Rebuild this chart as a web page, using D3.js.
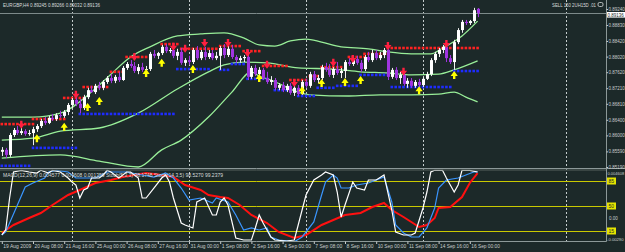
<!DOCTYPE html>
<html><head><meta charset="utf-8">
<script src="https://cdn.jsdelivr.net/npm/d3@7/dist/d3.min.js"></script>
<style>
html,body{margin:0;padding:0;background:#1c2929;}
svg{display:block;}
text{font-family:"Liberation Sans",Arial,sans-serif;}
</style></head><body>
<svg id="c" width="625" height="252"></svg>
<script>
// ---------- DATA ----------
const symbolTitle = "EURGBP,H4  0.89245 0.89266 0.89032 0.89136";
const tradeText = "SELL 150 2UH15D .01";
const indicatorTitle = "MACD(12,26,9) 0.004577 0.004608 0.001359  Stoch(5,3,3) 98.1748  Stoch(14,3,5) 98.5270 99.2379";

const opens = [0.8558,0.8563,0.8550,0.8601,0.8614,0.8606,0.8611,0.8604,0.8606,0.8616,
0.8624,0.8637,0.8632,0.8645,0.8642,0.8652,0.8650,0.8660,0.8678,0.8691,
0.8681,0.8670,0.8698,0.8716,0.8711,0.8727,0.8722,0.8737,0.8747,0.8740,
0.8750,0.8742,0.8773,0.8783,0.8778,0.8765,0.8775,0.8768,0.8770,0.8809,
0.8804,0.8811,0.8827,0.8816,0.8819,0.8804,0.8814,0.8786,0.8793,0.8788,
0.8819,0.8798,0.8814,0.8801,0.8811,0.8798,0.8804,0.8824,0.8806,0.8822,
0.8801,0.8793,0.8798,0.8801,0.8750,0.8773,0.8757,0.8768,0.8747,0.8737,
0.8742,0.8722,0.8729,0.8716,0.8727,0.8709,0.8722,0.8706,0.8737,0.8727,
0.8757,0.8742,0.8747,0.8775,0.8768,0.8755,0.8770,0.8760,0.8765,0.8788,
0.8783,0.8796,0.8786,0.8770,0.8801,0.8793,0.8811,0.8798,0.8806,0.8819,
0.8750,0.8768,0.8747,0.8755,0.8732,0.8740,0.8727,0.8737,0.8729,0.8745,
0.8757,0.8793,0.8809,0.8819,0.8827,0.8798,0.8788,0.8839,0.8870,0.8891,
0.8888,0.8893,0.89245];
const highs = [0.8570,0.8568,0.8606,0.8619,0.8624,0.8622,0.8616,0.8614,0.8622,0.8629,
0.8642,0.8647,0.8650,0.8655,0.8657,0.8663,0.8665,0.8683,0.8696,0.8698,
0.8693,0.8704,0.8722,0.8727,0.8732,0.8737,0.8742,0.8752,0.8757,0.8755,
0.8763,0.8778,0.8788,0.8793,0.8788,0.8783,0.8786,0.8778,0.8814,0.8819,
0.8814,0.8832,0.8834,0.8824,0.8829,0.8822,0.8824,0.8798,0.8804,0.8824,
0.8829,0.8819,0.8827,0.8819,0.8819,0.8814,0.8829,0.8834,0.8829,0.8832,
0.8806,0.8804,0.8806,0.8819,0.8778,0.8781,0.8775,0.8773,0.8763,0.8752,
0.8747,0.8734,0.8737,0.8732,0.8734,0.8727,0.8729,0.8742,0.8745,0.8763,
0.8765,0.8755,0.8781,0.8786,0.8783,0.8775,0.8788,0.8773,0.8793,0.8798,
0.8801,0.8804,0.8793,0.8806,0.8814,0.8819,0.8819,0.8814,0.8824,0.8829,
0.8773,0.8775,0.8763,0.8760,0.8747,0.8747,0.8742,0.8745,0.8750,0.8763,
0.8798,0.8814,0.8824,0.8832,0.8839,0.8806,0.8845,0.8875,0.8896,0.8896,
0.8896,0.8927,0.89266];
const lows = [0.8547,0.8542,0.8545,0.8596,0.8601,0.8601,0.8599,0.8599,0.8575,0.8609,
0.8619,0.8627,0.8629,0.8637,0.8637,0.8645,0.8645,0.8652,0.8670,0.8675,
0.8657,0.8665,0.8693,0.8709,0.8706,0.8716,0.8716,0.8732,0.8734,0.8734,
0.8737,0.8740,0.8768,0.8773,0.8760,0.8757,0.8763,0.8763,0.8765,0.8798,
0.8796,0.8806,0.8811,0.8811,0.8798,0.8793,0.8781,0.8778,0.8781,0.8783,
0.8793,0.8793,0.8793,0.8796,0.8793,0.8793,0.8768,0.8798,0.8801,0.8796,
0.8786,0.8786,0.8788,0.8742,0.8745,0.8752,0.8752,0.8742,0.8732,0.8729,
0.8716,0.8716,0.8711,0.8711,0.8704,0.8701,0.8701,0.8704,0.8722,0.8722,
0.8737,0.8734,0.8742,0.8763,0.8750,0.8747,0.8755,0.8747,0.8747,0.8778,
0.8778,0.8781,0.8763,0.8765,0.8788,0.8788,0.8793,0.8793,0.8798,0.8742,
0.8745,0.8742,0.8732,0.8727,0.8722,0.8722,0.8722,0.8724,0.8724,0.8742,
0.8752,0.8786,0.8801,0.8811,0.8788,0.8783,0.8768,0.8834,0.8863,0.8883,
0.8883,0.8888,0.89032];
const closes = [0.8563,0.8550,0.8601,0.8614,0.8606,0.8611,0.8604,0.8606,0.8616,0.8624,
0.8637,0.8632,0.8645,0.8642,0.8652,0.8650,0.8660,0.8678,0.8691,0.8681,
0.8670,0.8698,0.8716,0.8711,0.8727,0.8722,0.8737,0.8747,0.8740,0.8750,
0.8742,0.8773,0.8783,0.8778,0.8765,0.8775,0.8768,0.8770,0.8809,0.8804,
0.8811,0.8827,0.8816,0.8819,0.8804,0.8814,0.8786,0.8793,0.8788,0.8819,
0.8798,0.8814,0.8801,0.8811,0.8798,0.8804,0.8824,0.8806,0.8822,0.8801,
0.8793,0.8798,0.8801,0.8750,0.8773,0.8757,0.8768,0.8747,0.8737,0.8742,
0.8722,0.8729,0.8716,0.8727,0.8709,0.8722,0.8706,0.8737,0.8727,0.8757,
0.8742,0.8747,0.8775,0.8768,0.8755,0.8770,0.8760,0.8765,0.8788,0.8783,
0.8796,0.8786,0.8770,0.8801,0.8793,0.8811,0.8798,0.8806,0.8819,0.8750,
0.8768,0.8747,0.8755,0.8732,0.8740,0.8727,0.8737,0.8729,0.8745,0.8757,
0.8793,0.8809,0.8819,0.8827,0.8798,0.8788,0.8839,0.8870,0.8891,0.8888,
0.8893,0.8921,0.89136];
const currentPrice = 0.89136;

// bands: [bar, price]
const upperBand = [[0,0.8647],[8,0.8647],[15,0.8657],[23,0.8711],[28,0.8757],[33,0.8801],[38,0.8827],[45,0.8855],[51,0.8860],[57,0.8863],[62,0.8850],[66,0.8832],[70,0.8829],[74,0.8842],[78,0.8847],[82,0.8839],[87,0.8827],[94,0.8822],[99,0.8814],[105,0.8809],[110,0.8809],[113,0.8824],[118,0.8855],[122,0.8893]];
const middleBand = [[0,0.8588],[8,0.8593],[15,0.8611],[25,0.8619],[35,0.8657],[45,0.8719],[53,0.8763],[57,0.8781],[62,0.8788],[68,0.8786],[76,0.8773],[85,0.8770],[92,0.8763],[99,0.8760],[105,0.8755],[112,0.8757],[116,0.8768],[122,0.8791]];
const lowerBand = [[0,0.8542],[15,0.8550],[25,0.8534],[35,0.8519],[41,0.8563],[46,0.8588],[53,0.8647],[59,0.8711],[64,0.8763],[66,0.8752],[69,0.8742],[76,0.8711],[79,0.8704],[89,0.8701],[97,0.8704],[105,0.8704],[112,0.8706],[116,0.8711],[119,0.8698],[122,0.8686]];

// resistance / support dotted levels: [fromBar, toBar, price]
const resistance = [[0,8,0.8629],[8,16,0.8642],[16,21,0.8696],[21,27,0.8724],[28,31,0.8763],[32,37,0.8801],[41,45,0.8834],[46,55,0.8822],[56,61,0.8829],[62,66,0.8816],[67,73,0.8778],[74,78,0.8742],[79,81,0.8752],[82,87,0.8775],[89,93,0.8801],[93,99,0.8809],[99,122,0.8824]];
const support = [[0,7,0.8522],[8,19,0.8568],[20,44,0.8655],[45,53,0.8770],[56,58,0.8768],[59,62,0.8783],[63,68,0.8745],[70,76,0.8716],[76,80,0.8701],[81,85,0.8722],[86,91,0.8727],[92,99,0.8755],[100,115,0.8724],[116,122,0.8765]];

// signal arrows: [bar, price]
const sellArrows = [[5,0.8627],[19,0.8704],[34,0.8801],[44,0.8827],[47,0.8822],[52,0.8837],[58,0.8837],[63,0.8811],[68,0.8781],[75,0.8734],[85,0.8786],[90,0.8796],[99,0.8829],[103,0.8763],[114,0.8834]];
const buyArrows = [[9,0.8593],[16,0.8622],[22,0.8673],[25,0.8688],[37,0.8760],[41,0.8786],[49,0.8770],[66,0.8747],[77,0.8716],[82,0.8734],[88,0.8737],[92,0.8742],[107,0.8716],[116,0.8755]];

// oscillator lines: [bar, value 0-100]
const whiteLine = [[0,9.4],[1,16.4],[2,61.2],[3,97.6],[5,100],[7,97.6],[9,96.2],[10,100],[12,96.2],[13,100],[15,97.6],[17,89.2],[18,83.6],[19,79.4],[20,61.2],[21,72.4],[22,75.2],[23,89.2],[25,89.2],[26,93.4],[27,100],[28,97.6],[30,89.2],[32,97.6],[33,97.6],[35,89.2],[36,61.2],[37,61.2],[39,75.2],[41,89.2],[42,93.4],[43,83.6],[44,61.2],[46,26.2],[47,23.4],[49,19.2],[50,55.6],[51,58.4],[52,61.2],[54,37.4],[55,37.4],[56,55.6],[57,61.2],[58,51.4],[60,5.2],[62,2.4],[64,2.4],[65,19.2],[66,37.4],[67,26.2],[69,6.6],[70,2.4],[73,1],[75,2.4],[76,23.4],[78,65.4],[80,86.4],[82,93.4],[83,97.6],[85,93.4],[86,69.6],[87,34.6],[88,51.4],[90,83.6],[91,75.2],[93,72.4],[94,86.4],[96,86.4],[98,93.4],[100,44.4],[101,13.6],[103,9.4],[105,9.4],[106,12.2],[108,47.2],[109,69.6],[110,97.6],[111,100],[113,100],[114,89.2],[116,69.6],[117,79.4],[118,100],[120,100],[122,97.6]];
const blueLine = [[0,9.4],[1,13.6],[4,51.4],[6,76.6],[8,82.2],[11,89.2],[12,97.6],[14,100],[17,97.6],[19,89.2],[22,89.2],[24,89.2],[27,97.6],[32,97.6],[36,93.4],[39,90.6],[42,96.2],[44,89.2],[46,75.2],[48,58.4],[51,61.2],[54,54.2],[55,61.2],[58,55.6],[60,37.4],[62,16.4],[64,19.2],[66,16.4],[68,19.2],[69,6.6],[71,2.4],[75,0],[77,6.6],[80,27.6],[82,65.4],[83,83.6],[85,93.4],[86,89.2],[87,75.2],[89,75.2],[91,79.4],[94,82.2],[96,86.4],[98,90.6],[100,55.6],[101,23.4],[103,12.2],[105,6.6],[107,6.6],[109,19.2],[111,47.2],[112,75.2],[114,86.4],[117,89.2],[119,93.4],[121,97.6],[122,97.6]];
const redLine = [[0,12.2],[3,23.4],[7,33.2],[10,40.2],[13,51.4],[17,65.4],[20,72.4],[24,82.2],[28,86.4],[31,90.6],[34,93.4],[37,96.2],[41,93.4],[44,90.6],[47,79.4],[51,72.4],[53,65.4],[56,62.6],[58,61.2],[61,51.4],[64,37.4],[68,26.2],[71,13.6],[75,5.2],[78,9.4],[82,23.4],[85,30.4],[88,37.4],[92,40.2],[95,48.6],[98,54.2],[100,44.4],[103,34.6],[105,27.6],[107,20.6],[109,23.4],[111,33.2],[112,47.2],[115,48.6],[118,62.6],[120,82.2],[122,96.2]];
const levels = [85, 50, 15];

const dateTickBars = [0,8,16,24,32,40,48,56,64,72,80,88,96,104,112,120];
const dateLabels = ["19 Aug 2009","20 Aug 08:00","21 Aug 16:00","25 Aug 00:00","26 Aug 08:00","27 Aug 16:00","31 Aug 00:00","1 Sep 08:00","2 Sep 16:00","4 Sep 00:00","7 Sep 08:00","8 Sep 16:00","10 Sep 00:00","11 Sep 08:00","14 Sep 16:00","16 Sep 00:00"];
const priceTicks = [0.89240,0.88830,0.88420,0.88020,0.87620,0.87210,0.86810,0.86400,0.86000,0.85590,0.85190];
const separatorBars = [18, 48, 78, 108, 144.7];

// ---------- DRAW ----------
const svg = d3.select("#c");
const BG = "#1c2929";
const axisX = 606, mainBot = 168.5, indTop = 169.5, indBot = 241.5;
svg.append("rect").attr("width",625).attr("height",252).attr("fill",BG);

const x = d3.scaleLinear().domain([0,122]).range([1.8, 1.8+3.9*122]);
const y = d3.scaleLinear().domain([0.85190,0.89240]).range([167,9]);
const yi = d3.scaleLinear().domain([0,100]).range([241.7,170.3]);

function fit(sel, maxW){
  sel.each(function(){ const w=this.getComputedTextLength(); if(w>maxW){ d3.select(this).attr("textLength",maxW).attr("lengthAdjust","spacingAndGlyphs"); } });
}

const defs = svg.append("defs");
defs.append("clipPath").attr("id","cm").append("rect").attr("x",0).attr("y",0).attr("width",axisX).attr("height",mainBot);
defs.append("clipPath").attr("id","ci").append("rect").attr("x",0).attr("y",indTop).attr("width",axisX).attr("height",indBot-indTop);

// separators
svg.append("g").selectAll("line").data(separatorBars).join("line")
  .attr("x1",d=>Math.round(x(d))+0.5).attr("x2",d=>Math.round(x(d))+0.5)
  .attr("y1",0).attr("y2",indBot)
  .attr("stroke","#c4cccc").attr("stroke-width",1).attr("stroke-dasharray","2,2");

const main = svg.append("g").attr("clip-path","url(#cm)");
// bid line
main.append("line").attr("x1",0).attr("x2",axisX).attr("y1",Math.round(y(currentPrice))+0.5).attr("y2",Math.round(y(currentPrice))+0.5)
  .attr("stroke","#7d8a8a").attr("stroke-width",1);

// bands
const bandLine = d3.line().x(d=>x(d[0])).y(d=>y(d[1])).curve(d3.curveMonotoneX);
[upperBand, middleBand, lowerBand].forEach(b=>{
  main.append("path").datum(b).attr("d",bandLine).attr("fill","none").attr("stroke","#98ee98").attr("stroke-width",1.3);
});

// dotted levels, one square per bar
function dots(segs, color){
  const pts = [];
  segs.forEach(s=>{ for(let b=s[0]; b<=s[1]; b++) pts.push([b,s[2]]); });
  main.append("g").selectAll("rect").data(pts).join("rect")
    .attr("x",d=>x(d[0])-1.3).attr("y",d=>y(d[1])-1.3).attr("width",2.6).attr("height",2.6).attr("fill",color);
}
dots(resistance,"#ff2222");
dots(support,"#1e2cff");

// candles
const bars = closes.map((c,i)=>({i,o:opens[i],h:highs[i],l:lows[i],c}));
const cg = main.append("g");
cg.selectAll("line").data(bars).join("line")
  .attr("x1",d=>Math.round(x(d.i))+0.5).attr("x2",d=>Math.round(x(d.i))+0.5)
  .attr("y1",d=>y(d.h)).attr("y2",d=>y(d.l))
  .attr("stroke",d=>d.c>=d.o?"#f0f0f0":"#a035e0").attr("stroke-width",1);
cg.selectAll("rect").data(bars).join("rect")
  .attr("x",d=>Math.round(x(d.i))-1).attr("width",3)
  .attr("y",d=>y(Math.max(d.o,d.c))).attr("height",d=>Math.max(1,Math.abs(y(d.o)-y(d.c))))
  .attr("fill",d=>d.c>=d.o?"#ffffff":"#a035e0");

// arrows
main.append("g").selectAll("path").data(sellArrows).join("path")
  .attr("d",d=>{const cx=x(d[0]),cy=y(d[1]);return `M${cx-1.2},${cy-4}h2.4v3h2.4L${cx},${cy+4}L${cx-3.6},${cy-1}h2.4z`;})
  .attr("fill","#ff2040");
main.append("g").selectAll("path").data(buyArrows).join("path")
  .attr("d",d=>{const cx=x(d[0]),cy=y(d[1]);return `M${cx-1.2},${cy+4}h2.4v-3h2.4L${cx},${cy-4}L${cx-3.6},${cy+1}h2.4z`;})
  .attr("fill","#ffff00");

// title texts
svg.append("text").attr("x",3).attr("y",6.5).attr("font-size",5.6).attr("fill","#d8dcdc")
  .attr("textLength",97).attr("lengthAdjust","spacingAndGlyphs").text(symbolTitle);
svg.append("text").attr("x",552).attr("y",7).attr("font-size",5.6).attr("fill","#d8dcdc")
  .attr("textLength",44).attr("lengthAdjust","spacingAndGlyphs").text(tradeText);
svg.append("rect").attr("x",598).attr("y",2.5).attr("width",5).attr("height",4).attr("rx",1.5).attr("fill","none").attr("stroke","#d8dcdc").attr("stroke-width",0.8);

// indicator panel
const ind = svg.append("g").attr("clip-path","url(#ci)");
ind.selectAll("line.lv").data(levels).join("line")
  .attr("x1",0).attr("x2",axisX).attr("y1",d=>Math.round(yi(d))+0.5).attr("y2",d=>Math.round(yi(d))+0.5)
  .attr("stroke","#c8c800").attr("stroke-width",1);
const oscLine = d3.line().x(d=>x(d[0])).y(d=>yi(d[1]));
ind.append("path").datum(redLine).attr("d",oscLine).attr("fill","none").attr("stroke","#ff1010").attr("stroke-width",2);
ind.append("path").datum(blueLine).attr("d",oscLine).attr("fill","none").attr("stroke","#3a96ff").attr("stroke-width",1.2);
ind.append("path").datum(whiteLine).attr("d",oscLine).attr("fill","none").attr("stroke","#ffffff").attr("stroke-width",1.2);
svg.append("text").attr("x",3).attr("y",176.5).attr("font-size",5.4).attr("fill","#d8dcdc")
  .attr("textLength",220).attr("lengthAdjust","spacingAndGlyphs").text(indicatorTitle);

// frames
const fr = svg.append("g").attr("stroke","#8c9898").attr("stroke-width",1);
fr.append("line").attr("x1",0).attr("x2",625).attr("y1",mainBot).attr("y2",mainBot);
fr.append("line").attr("x1",0).attr("x2",axisX).attr("y1",indTop+0.5).attr("y2",indTop+0.5).attr("stroke","#56625f");
fr.append("line").attr("x1",0).attr("x2",axisX+0.5).attr("y1",indBot).attr("y2",indBot);
fr.append("line").attr("x1",axisX+0.5).attr("x2",axisX+0.5).attr("y1",0).attr("y2",indBot);

// price axis
const pa = svg.append("g").attr("transform",`translate(${axisX+0.5},0)`)
  .call(d3.axisRight(y).tickValues(priceTicks).tickSize(1.5).tickPadding(0.5).tickFormat(d3.format(".5f")));
pa.select(".domain").remove();
pa.selectAll("line").attr("stroke","#c8cccc");
pa.selectAll("text").attr("fill","#c8cccc").attr("font-size",4.5).attr("font-family","Liberation Sans, Arial, sans-serif");

// current price box
svg.append("rect").attr("x",axisX+1).attr("y",12).attr("width",18).attr("height",5.6).attr("fill","#ffffff");
svg.append("text").attr("x",axisX+1.6).attr("y",16.5).attr("font-size",4.5).attr("fill","#1c2929")
  .text(d3.format(".5f")(currentPrice));

// indicator axis labels
svg.append("text").attr("x",axisX+1.5).attr("y",175).attr("font-size",4).attr("fill","#c8cccc").text("0.004608");
const lv = svg.append("g").selectAll("g").data(levels).join("g").attr("transform",d=>`translate(${axisX+1},${yi(d)})`);
lv.append("rect").attr("x",0).attr("y",-3.5).attr("width",9).attr("height",7).attr("fill","#e4e400");
lv.append("text").attr("x",1.6).attr("y",1.9).attr("font-size",5).attr("fill","#1c2929").text(d=>d);
svg.append("text").attr("x",axisX+3).attr("y",219.5).attr("font-size",4.5).attr("fill","#c8cccc").text("0.00");
svg.append("text").attr("x",axisX+1).attr("y",240.5).attr("font-size",4.2).attr("fill","#c8cccc").text("-0.00290");

// date axis
const da = svg.append("g").attr("transform",`translate(0,${indBot})`)
  .call(d3.axisBottom(x).tickValues(dateTickBars).tickSize(2.5).tickFormat((d,i)=>dateLabels[i]));
da.select(".domain").remove();
da.selectAll("line").attr("stroke","#c8cccc");
da.selectAll("text").attr("fill","#c8cccc").attr("font-size",5).attr("text-anchor","start").attr("x",1).attr("dy","0.35em").attr("y",5.2)
  .attr("font-family","Liberation Sans, Arial, sans-serif");
fit(da.selectAll("text"), 28.5);
</script>
</body></html>
